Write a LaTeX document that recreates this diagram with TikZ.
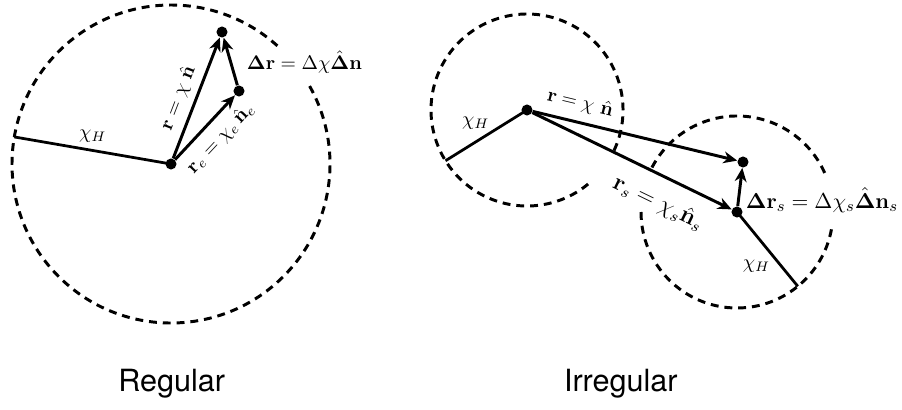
\documentclass[tikz,border=0pt]{standalone}
\usepackage[no-math]{fontspec}
\newfontfamily\captionfont{TeX Gyre Heros}
\usetikzlibrary{arrows.meta}
\begin{document}
\begin{tikzpicture}[x=0.0178cm, y=0.0178cm,
    dot/.style={circle, fill=black, inner sep=0pt, minimum size=5.6pt},
    vec/.style={line width=1.5pt, -{Stealth[length=7pt, width=6pt, inset=2.2pt]}},
    horizon/.style={line width=1.5pt, dash pattern=on 4pt off 3pt},
    hline/.style={line width=1.4pt}]
  \useasboundingbox (0,0) rectangle (902,409);

  \node[dot] (obsL) at (171,245) {};
  \node[dot] (tgtL) at (222,377) {};
  \node[dot] (expL) at (239,318) {};
  \draw[horizon] ([shift={(48:159)}]obsL.center) arc[start angle=48, end angle=390, radius=159];
  \coordinate (edgeL) at ([shift={(170.2:159)}]obsL.center);
  \draw[hline] (obsL.center) -- (edgeL) node[midway, above] {$\chi_H$};
  \draw[vec] (obsL) -- (tgtL) node[pos=0.45, sloped, above] {$\mathbf{r} = \chi\ \hat{\mathbf{n}}$};
  \draw[vec] (obsL) -- (expL) node[pos=0.53, sloped, below=1pt] {$\mathbf{r}_e = \chi_e\,\hat{\mathbf{n}}_e$};
  \draw[vec] (expL) -- (tgtL);
  \node[anchor=west] (dlabL) at (240,347) {$\mathbf{\Delta r} = \Delta\chi\hat{\mathbf{\Delta}}\mathbf{n}$};

  \node[dot] (obsR) at (527,299) {};
  \node[dot] (tgtR) at (743,247) {};
  \node[dot] (srcR) at (737,197) {};
  \draw[horizon] ([shift={(-25:96)}]obsR.center) arc[start angle=-25, end angle=311, radius=96];
  \draw[horizon] ([shift={(24:96)}]srcR.center) arc[start angle=24, end angle=154, radius=96];
  \draw[horizon] ([shift={(180:96)}]srcR.center) arc[start angle=180, end angle=353, radius=96];
  \coordinate (edgeR) at ([shift={(211.9:96)}]obsR.center);
  \coordinate (edgeS) at ([shift={(-50.7:96)}]srcR.center);
  \draw[hline] (obsR.center) -- (edgeR) node[pos=0.63, above=2.5pt] {$\chi_H$};
  \draw[hline] (srcR.center) -- (edgeS) node[pos=0.6, anchor=north east, inner sep=1pt] {$\chi_H$};
  \draw[vec] (obsR) -- (tgtR) node[pos=0.21, sloped, above=1pt] {$\mathbf{r} = \chi\ \hat{\mathbf{n}}$};
  \draw[vec] (obsR) -- (srcR) node[pos=0.69, sloped, below=4pt, font=\large] {$\mathbf{r}_s = \chi_s\hat{\mathbf{n}}_s$};
  \draw[vec] (srcR) -- (tgtR);
  \node[anchor=west, font=\fontsize{11}{13}\selectfont] (dlabR) at (739,209) {$\mathbf{\Delta r}_s = \Delta\chi_s\hat{\mathbf{\Delta}}\mathbf{n}_s$};

  \foreach \cx/\ctext in {171.7/Regular, 620.8/Irregular}
    \node[anchor=base, font=\captionfont\fontsize{15.5}{18}\selectfont] (cap\ctext) at (\cx,17.3) {\ctext};
\end{tikzpicture}
\end{document}
